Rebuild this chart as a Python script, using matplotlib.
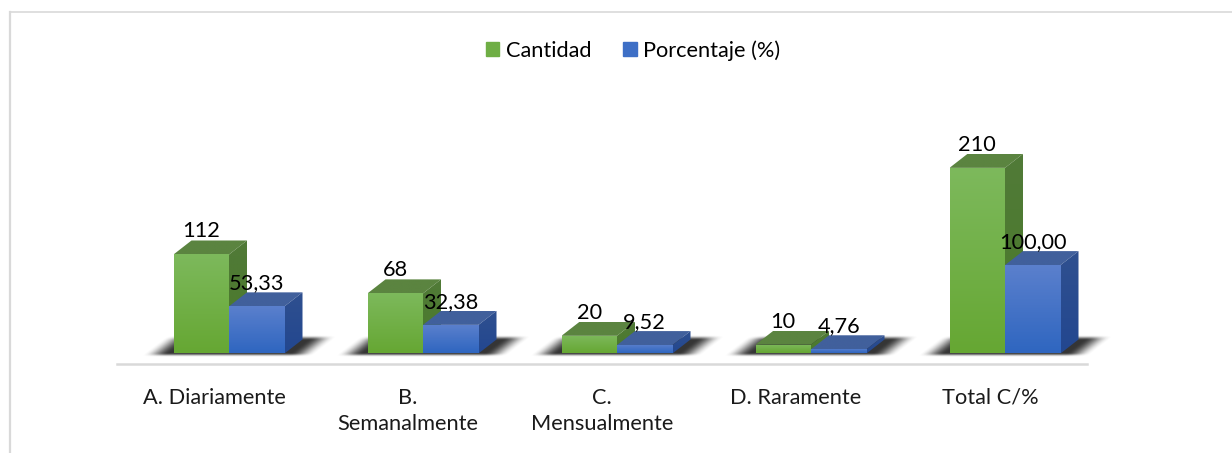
"""Barras 3D: frecuencia por categoria (cantidad y porcentaje)."""

import numpy as np
import matplotlib
matplotlib.use('Agg')
import matplotlib.pyplot as plt
from matplotlib.patches import Patch, Polygon
from matplotlib.colors import LinearSegmentedColormap

categories = ['A. Diariamente', 'B.\nSemanalmente', 'C.\nMensualmente', 'D. Raramente', 'Total C/%']
cantidad = [112, 68, 20, 10, 210]
porcentaje = [53.33, 32.38, 9.52, 4.76, 100.00]
porcentaje_labels = ['53,33', '32,38', '9,52', '4,76', '100,00']

W, H = 1232, 453
PX_X = 194.0    # pixels per category
PX_Y = 0.884    # pixels per value unit
AX_L, AX_R, AX_B, AX_T = 117, 1087, 364, 60
BASE = 353.5

BAR_W = 55.5 / PX_X
DX = 18 / PX_X
DY = 14 / PX_Y
SHIFT = 15 / PX_X    # bars sit right of the tick because of the depth

plt.rcParams['font.family'] = ['Lato', 'DejaVu Sans']
FS = 15.7

GREEN = {'front': ('#7db95c', '#66a733'), 'side': ('#517a38', '#4a7a2a'), 'top': ('#5b8440', '#5b8440')}
BLUE = {'front': ('#5b80cd', '#2f66c0'), 'side': ('#2f5090', '#23478f'), 'top': ('#41609c', '#41609c')}


def smooth(v):
    v = np.clip(v, 0, 1)
    return v * v * (3 - 2 * v)


def face(ax, pts, colors, z):
    """One face of a box, filled with a vertical gradient."""
    cmap = LinearSegmentedColormap.from_list('f', colors)
    xs, ys = zip(*pts)
    im = ax.imshow(np.linspace(0, 1, 64)[:, None], cmap=cmap, aspect='auto', origin='upper',
                   extent=(min(xs), max(xs), min(ys), max(ys)), zorder=z)
    im.set_clip_path(Polygon(pts, closed=True, transform=ax.transData))


def box(ax, x, val, style, z):
    x2 = x + BAR_W
    face(ax, [(x, val), (x2, val), (x2 + DX, val + DY), (x + DX, val + DY)], style['top'], z)
    face(ax, [(x2, 0), (x2 + DX, DY), (x2 + DX, val + DY), (x2, val)], style['side'], z)
    face(ax, [(x, 0), (x2, 0), (x2, val), (x, val)], style['front'], z + 0.1)


def shadow(ax, x):
    """Soft floor shadow behind a pair of bars (offsets in pixels from the bar's left edge)."""
    xx = np.linspace(-40, 200, 240)
    yy = np.linspace(22, -6, 56)
    gx, gy = np.meshgrid(xx, yy)
    sheared = gx - gy * 18 / 14
    a = smooth((sheared + 30) / 26) * smooth((143 - sheared) / 26)
    b = smooth((18 - gy) / 5) * smooth((gy + 4) / 4)
    rgba = np.zeros(gx.shape + (4,))
    rgba[..., :3] = 0.1
    rgba[..., 3] = 0.88 * a * b
    ax.imshow(rgba, aspect='auto', zorder=1, clip_on=False, interpolation='bilinear',
              extent=(x - 40 / PX_X, x + 200 / PX_X, -6 / PX_Y, 22 / PX_Y))


fig = plt.figure(figsize=(W / 100, H / 100), dpi=100)
ax = fig.add_axes([AX_L / W, 1 - AX_B / H, (AX_R - AX_L) / W, (AX_B - AX_T) / H])

pos = np.arange(len(categories))
for i in pos:
    x = i - BAR_W + SHIFT
    shadow(ax, x)
    box(ax, x, cantidad[i], GREEN, 3)
    box(ax, x + BAR_W, porcentaje[i], BLUE, 4)
    ax.text(x + BAR_W / 2, cantidad[i] + DY - 1, str(cantidad[i]), ha='center', va='bottom',
            fontsize=FS, color='black', zorder=6)
    ax.text(x + BAR_W * 1.5, porcentaje[i] + DY - 1, porcentaje_labels[i], ha='center', va='bottom',
            fontsize=FS, color='black', zorder=6)

ax.set_xlim(-0.5, len(categories) - 0.5)
ax.set_ylim(-(AX_B - BASE) / PX_Y, (BASE - AX_T) / PX_Y)
ax.set_xticks(pos)
ax.set_xticklabels(categories, fontsize=FS, linespacing=1.42, color='#1a1a1a')
ax.tick_params(axis='x', length=0, pad=17)
ax.set_yticks([])
for s in ['top', 'left', 'right']:
    ax.spines[s].set_visible(False)
ax.spines['bottom'].set_color('#d9d9d9')
ax.spines['bottom'].set_linewidth(1.8)
ax.patch.set_alpha(0)

handles = [Patch(color='#6fae45', label='Cantidad'), Patch(color='#3e6fc6', label='Porcentaje (%)')]
fig.legend(handles=handles, loc='center', bbox_to_anchor=(633 / W, 1 - 50.5 / H), ncol=2, frameon=False,
           fontsize=FS, handlelength=0.62, handleheight=0.62, handletextpad=0.3, columnspacing=1.45)

# outer frame, cut on the right and bottom
fig.add_artist(plt.Line2D([9.5 / W, 9.5 / W], [0, 1 - 11.5 / H], color='#d9d9d9', lw=1.6))
fig.add_artist(plt.Line2D([9.5 / W, 1], [1 - 11.5 / H, 1 - 11.5 / H], color='#d9d9d9', lw=1.2))

fig.savefig('out.png', dpi=100)
